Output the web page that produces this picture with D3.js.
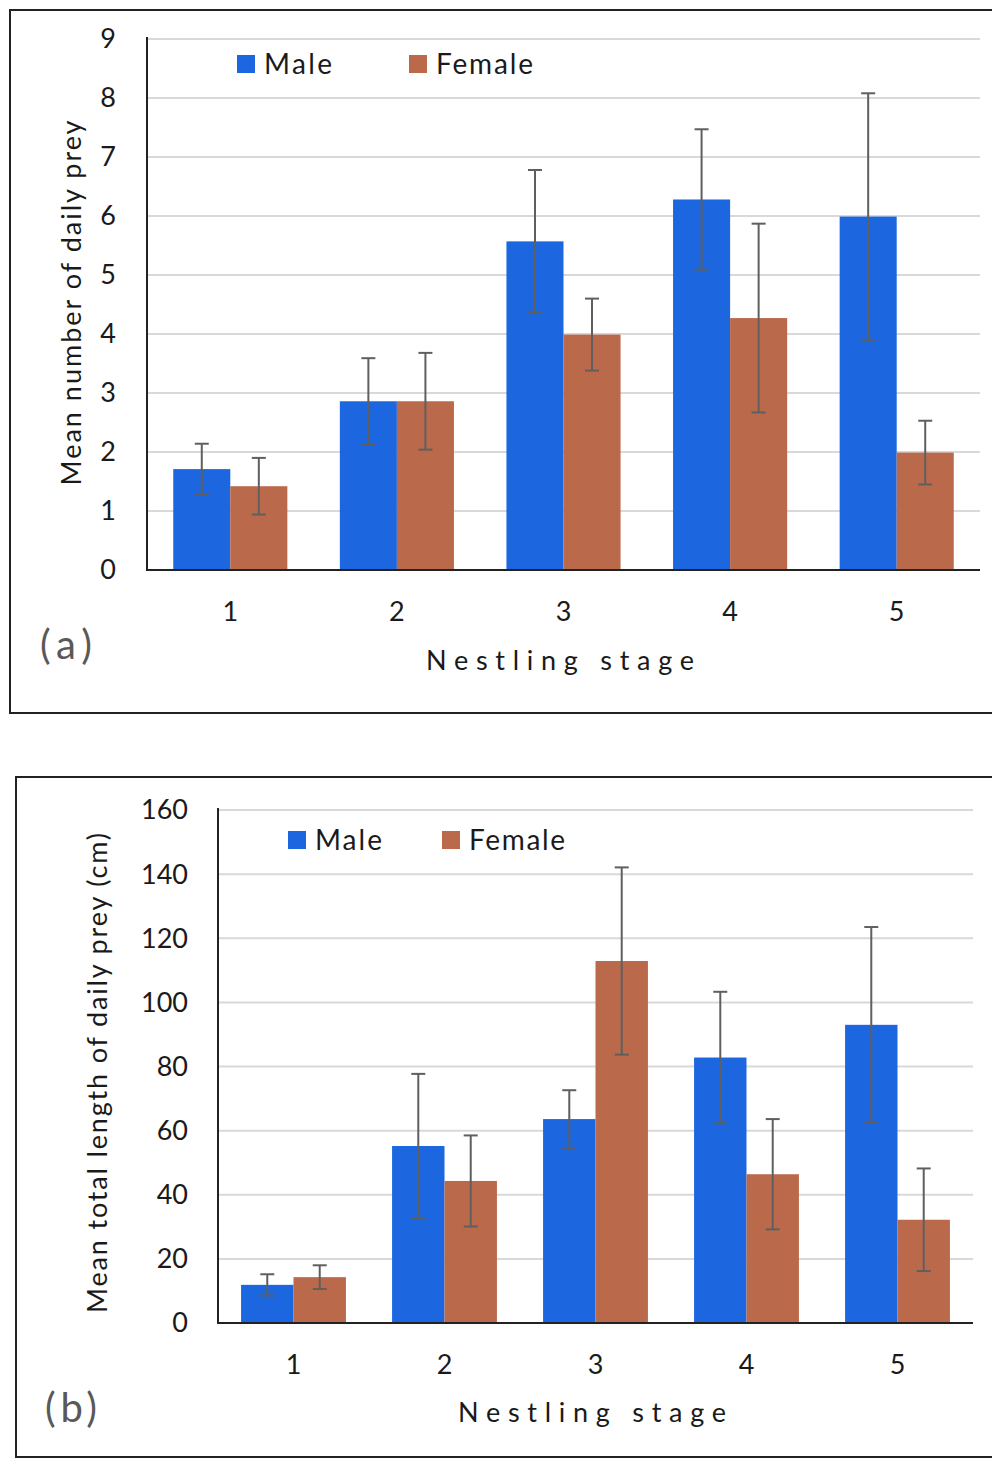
<!DOCTYPE html>
<html>
<head>
<meta charset="utf-8">
<script src="https://cdn.jsdelivr.net/npm/d3@7"></script>
<style>
  body { margin: 0; background: #fff; }
  svg text { font-family: Lato, "Open Sans", sans-serif; fill: #1a1a1a; }
</style>
</head>
<body>
<svg id="chart" width="992" height="1459"></svg>
<script>
// nestling stages
var stages = ["1", "2", "3", "4", "5"];
var sexes = ["Male", "Female"];
var colors = ["#1c67e0", "#ba6a4b"];

// (a) mean number of daily prey
var preyMale = [1.71, 2.86, 5.57, 6.28, 5.99];
var preyFemale = [1.42, 2.86, 3.99, 4.27, 1.99];
var preyMaleErr = [0.43, 0.73, 1.21, 1.19, 2.09];
var preyFemaleErr = [0.48, 0.82, 0.61, 1.60, 0.54];
var preyTicks = [0, 1, 2, 3, 4, 5, 6, 7, 8, 9];

// (b) mean total length of daily prey (cm)
var lenMale = [11.9, 55.2, 63.6, 82.8, 93.0];
var lenFemale = [14.3, 44.3, 112.9, 46.4, 32.2];
var lenMaleErr = [3.3, 22.5, 9.0, 20.5, 30.5];
var lenFemaleErr = [3.7, 14.2, 29.2, 17.2, 16.0];
var lenTicks = [0, 20, 40, 60, 80, 100, 120, 140, 160];

var svg = d3.select("#chart");

function panel(cfg) {
  var g = svg.append("g");

  // frame
  g.append("rect")
    .attr("x", cfg.frame[0]).attr("y", cfg.frame[1])
    .attr("width", cfg.frame[2]).attr("height", cfg.frame[3])
    .attr("fill", "none").attr("stroke", "#222").attr("stroke-width", 2);

  var x = d3.scaleBand().domain(stages).range([cfg.left, cfg.right]).paddingInner(0).paddingOuter(0);
  var xs = d3.scaleBand().domain(sexes).range([0, x.bandwidth()]).paddingInner(0).paddingOuter(cfg.pad);
  var y = d3.scaleLinear().domain([0, d3.max(cfg.ticks)]).range([cfg.bottom, cfg.top]);

  // gridlines
  g.append("g").selectAll("line")
    .data(cfg.ticks.slice(1))
    .join("line")
      .attr("x1", cfg.left).attr("x2", cfg.right)
      .attr("y1", function(d) { return y(d); }).attr("y2", function(d) { return y(d); })
      .attr("stroke", "#d9d9d9").attr("stroke-width", 2);

  // y tick labels
  g.append("g").selectAll("text")
    .data(cfg.ticks)
    .join("text")
      .attr("x", cfg.yLabelX)
      .attr("y", function(d) { return y(d); })
      .attr("dy", "0.35em")
      .attr("text-anchor", "end")
      .attr("font-size", 27)
      .text(function(d) { return d; });

  // bars
  var rows = stages.map(function(s, i) {
    return [
      { stage: s, sex: "Male", v: cfg.male[i], e: cfg.maleErr[i], c: colors[0] },
      { stage: s, sex: "Female", v: cfg.female[i], e: cfg.femaleErr[i], c: colors[1] }
    ];
  });
  var flat = [].concat.apply([], rows);

  g.append("g").selectAll("rect")
    .data(flat)
    .join("rect")
      .attr("x", function(d) { return x(d.stage) + xs(d.sex); })
      .attr("width", xs.bandwidth())
      .attr("y", function(d) { return y(d.v); })
      .attr("height", function(d) { return y(0) - y(d.v); })
      .attr("fill", function(d) { return d.c; });

  // error bars
  var eb = g.append("g").attr("stroke", "#5f5f5f").attr("stroke-width", 2);
  flat.forEach(function(d) {
    var cx = x(d.stage) + xs(d.sex) + xs.bandwidth() / 2;
    eb.append("line").attr("x1", cx).attr("x2", cx).attr("y1", y(d.v + d.e)).attr("y2", y(d.v - d.e));
    eb.append("line").attr("x1", cx - 7).attr("x2", cx + 7).attr("y1", y(d.v + d.e)).attr("y2", y(d.v + d.e));
    eb.append("line").attr("x1", cx - 7).attr("x2", cx + 7).attr("y1", y(d.v - d.e)).attr("y2", y(d.v - d.e));
  });

  // axes lines
  g.append("line").attr("x1", cfg.left).attr("x2", cfg.left).attr("y1", cfg.top - 2).attr("y2", cfg.bottom + 1)
    .attr("stroke", "#222").attr("stroke-width", 2);
  g.append("line").attr("x1", cfg.left - 1).attr("x2", cfg.right).attr("y1", cfg.bottom).attr("y2", cfg.bottom)
    .attr("stroke", "#222").attr("stroke-width", 2);

  // x tick labels
  g.append("g").selectAll("text")
    .data(stages)
    .join("text")
      .attr("x", function(d) { return x(d) + x.bandwidth() / 2; })
      .attr("y", cfg.xLabelY)
      .attr("dy", "0.35em")
      .attr("text-anchor", "middle")
      .attr("font-size", 27)
      .text(function(d) { return d; });

  // x title
  g.append("text")
    .attr("x", cfg.xTitle[0] - 134).attr("y", cfg.xTitle[1])
    .attr("dy", "0.35em")
    .attr("font-size", 27)
    .attr("textLength", 268)
    .attr("lengthAdjust", "spacing")
    .text("Nestling stage");

  // y title
  g.append("text")
    .attr("transform", "translate(" + cfg.yTitle[0] + "," + cfg.yTitle[1] + ") rotate(-90)")
    .attr("x", -cfg.yTitleLen / 2)
    .attr("dy", "0.35em")
    .attr("font-size", 27)
    .attr("textLength", cfg.yTitleLen)
    .attr("lengthAdjust", "spacing")
    .text(cfg.yTitleText);

  // panel tag
  g.append("text")
    .attr("x", cfg.tag[0]).attr("y", cfg.tag[1])
    .attr("dy", "0.35em")
    .attr("font-size", 40)
    .attr("textLength", 52)
    .attr("lengthAdjust", "spacing")
    .style("fill", "#595959")
    .text(cfg.tagText);

  // legend
  sexes.forEach(function(s, i) {
    var lx = cfg.legend[i];
    g.append("rect").attr("x", lx).attr("y", cfg.legendY - 9).attr("width", 18).attr("height", 18)
      .attr("fill", colors[i]);
    g.append("text").attr("x", lx + 27).attr("y", cfg.legendY).attr("dy", "0.35em")
      .attr("font-size", 28)
      .attr("textLength", cfg.legendLen[i])
      .attr("lengthAdjust", "spacing")
      .text(s);
  });
}

panel({
  frame: [10, 10, 990, 703],
  left: 147, right: 980, top: 39, bottom: 570,
  pad: 0.46,
  ticks: preyTicks,
  male: preyMale, female: preyFemale, maleErr: preyMaleErr, femaleErr: preyFemaleErr,
  yLabelX: 116, xLabelY: 612,
  xTitle: [560, 661],
  yTitle: [72, 303], yTitleText: "Mean number of daily prey", yTitleLen: 365,
  tag: [40, 645], tagText: "(a)",
  legend: [237, 409], legendLen: [68, 97], legendY: 64
});

panel({
  frame: [16, 777, 984, 680],
  left: 218, right: 973, top: 810, bottom: 1323,
  pad: 0.44,
  ticks: lenTicks,
  male: lenMale, female: lenFemale, maleErr: lenMaleErr, femaleErr: lenFemaleErr,
  yLabelX: 188, xLabelY: 1365,
  xTitle: [592, 1413],
  yTitle: [98, 1073], yTitleText: "Mean total length of daily prey (cm)", yTitleLen: 480,
  tag: [45, 1408], tagText: "(b)",
  legend: [288, 442], legendLen: [67, 96], legendY: 840
});
</script>
</body>
</html>
